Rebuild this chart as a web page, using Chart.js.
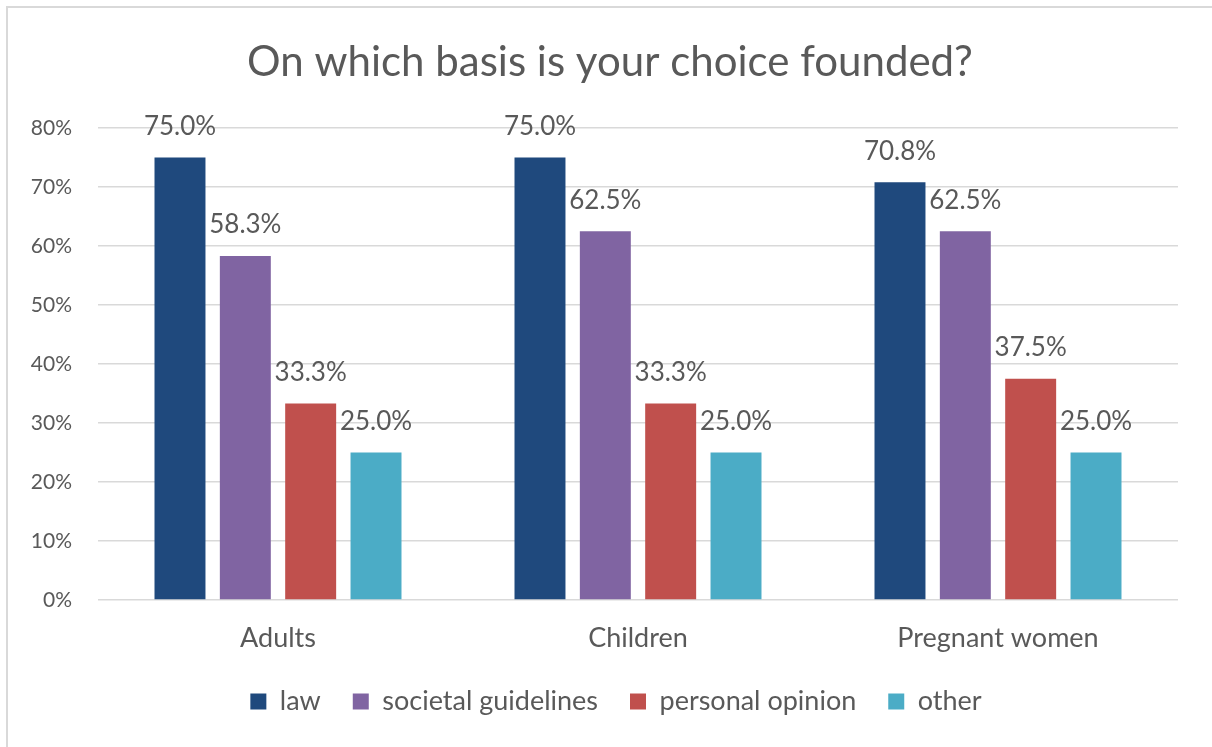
<!DOCTYPE html>
<html>
<head>
<meta charset="utf-8">
<script src="https://cdn.jsdelivr.net/npm/chart.js@4"></script>
<style>
  html, body { margin: 0; padding: 0; background: #fff; overflow: hidden; }
  #frame { position: absolute; left: 6px; top: 6px; width: 1300px; height: 900px;
           border-left: 2px solid #d9d9d9; border-top: 2px solid #d9d9d9; }
  #wrap { position: absolute; left: 0; top: 0; width: 1212px; height: 747px; }
</style>
</head>
<body>
<div id="frame"></div>
<div id="wrap"><canvas id="chart"></canvas></div>
<script>
var groups = ["Adults", "Children", "Pregnant women"];
var law = [75.0, 75.0, 70.8];
var societal = [58.3, 62.5, 62.5];
var personal = [33.3, 33.3, 37.5];
var other = [25.0, 25.0, 25.0];
var yTicks = [0, 10, 20, 30, 40, 50, 60, 70, 80];

var textColor = "#595959";
var fontName = "Lato, 'Open Sans', sans-serif";

var titlePlugin = {
    id: "fixedTitle",
    afterDraw: function(chart) {
        var ctx = chart.ctx;
        ctx.save();
        ctx.fillStyle = textColor;
        ctx.font = "42px " + fontName;
        ctx.textAlign = "center";
        ctx.textBaseline = "middle";
        ctx.fillText("On which basis is your choice founded?", 610, 62);
        ctx.restore();
    }
};

// the legend in the picture sits a bit right of the plot centre
var shiftLegend = {
    id: "shiftLegend",
    afterLayout: function(chart) {
        chart.legend.left += 27;
        chart.legend.right += 27;
    }
};

var valueLabels = {
    id: "valueLabels",
    afterDatasetsDraw: function(chart) {
        var ctx = chart.ctx;
        ctx.save();
        ctx.fillStyle = textColor;
        ctx.font = "26px " + fontName;
        ctx.textAlign = "center";
        ctx.textBaseline = "middle";
        chart.data.datasets.forEach(function(ds, i) {
            chart.getDatasetMeta(i).data.forEach(function(bar, j) {
                ctx.fillText(ds.data[j].toFixed(1) + "%", bar.x, bar.y - 31);
            });
        });
        ctx.restore();
    }
};

function makeChart() {
    var ctx = document.getElementById("chart").getContext("2d");
    var chart = new Chart(ctx, {
        type: "bar",
        data: {
            labels: groups,
            datasets: [
                { label: "law", data: law, backgroundColor: "#1F497D" },
                { label: "societal guidelines", data: societal, backgroundColor: "#8064A2" },
                { label: "personal opinion", data: personal, backgroundColor: "#C0504D" },
                { label: "other", data: other, backgroundColor: "#4BACC6" }
            ]
        },
        options: {
            responsive: true,
            maintainAspectRatio: false,
            animation: false,
            layout: { padding: { left: 0, right: 34, top: 128, bottom: 22 } },
            datasets: { bar: { barPercentage: 0.78, categoryPercentage: 0.726 } },
            plugins: {
                title: { display: false },
                tooltip: { enabled: false },
                legend: {
                    position: "bottom",
                    labels: {
                        color: textColor,
                        font: { family: fontName, size: 27 },
                        boxWidth: 16,
                        boxHeight: 16,
                        padding: 32
                    }
                }
            },
            scales: {
                x: {
                    grid: { display: false },
                    border: { display: false },
                    ticks: { color: textColor, font: { family: fontName, size: 27 }, padding: 14 },
                    afterFit: function(scale) { scale.height = 56; }
                },
                y: {
                    min: 0,
                    max: 80,
                    afterBuildTicks: function(scale) {
                        scale.ticks = yTicks.map(function(v) { return { value: v }; });
                    },
                    grid: { color: "#d9d9d9", lineWidth: 1.5, drawTicks: false },
                    border: { display: false },
                    ticks: {
                        color: textColor,
                        font: { family: fontName, size: 21 },
                        padding: 26,
                        callback: function(v) { return v + "%"; }
                    },
                    afterFit: function(scale) { scale.width = 98; }
                }
            }
        },
        plugins: [titlePlugin, shiftLegend, valueLabels]
    });
    return chart;
}

makeChart();
</script>
</body>
</html>
